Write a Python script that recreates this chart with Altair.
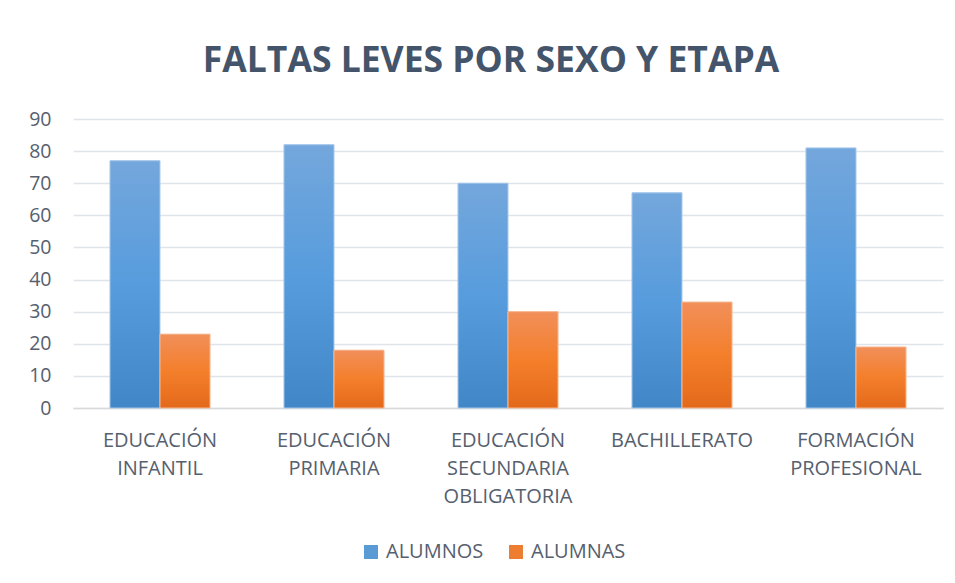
import altair as alt
import pandas as pd

categories = ["EDUCACIÓN INFANTIL", "EDUCACIÓN PRIMARIA", "EDUCACIÓN SECUNDARIA OBLIGATORIA",
              "BACHILLERATO", "FORMACIÓN PROFESIONAL"]
alumnos = [77, 82, 70, 67, 81]
alumnas = [23, 18, 30, 33, 19]
series = ["ALUMNOS", "ALUMNAS"]
y_ticks = [0, 10, 20, 30, 40, 50, 60, 70, 80, 90]

rows = []
for c, a, b in zip(categories, alumnos, alumnas):
    rows.append({"etapa": c, "sexo": "ALUMNOS", "valor": a})
    rows.append({"etapa": c, "sexo": "ALUMNAS", "valor": b})
df = pd.DataFrame(rows)

BLUE = "#5B9BD5"
ORANGE = "#ED7D31"
TEXT = "#56606E"
FONT = "Open Sans"

x_enc = alt.X("etapa:N", sort=categories,
              scale=alt.Scale(paddingInner=0.425, paddingOuter=0.2125),
              axis=alt.Axis(title=None, labelAngle=0, labelExpr="split(datum.label, ' ')",
                            labelFontSize=20, labelColor=TEXT, labelFont=FONT,
                            labelPadding=22, labelLineHeight=28, ticks=False,
                            domainColor="#D9D9D9", domainWidth=1.5, labelBaseline="top"))
y_enc = alt.Y("valor:Q", scale=alt.Scale(domain=[0, 90], nice=False),
              axis=alt.Axis(title=None, values=y_ticks, labelFontSize=19.5, labelColor=TEXT,
                            labelFont=FONT, labelPadding=22, ticks=False,
                            domain=False, gridColor="#DFE3EA", gridWidth=1.5))
xoff = alt.XOffset("sexo:N", sort=series, scale=alt.Scale(domain=series, paddingInner=0, paddingOuter=0))

base = alt.Chart(df).encode(x=x_enc, y=y_enc, xOffset=xoff)

solid = base.mark_bar().encode(
    color=alt.Color("sexo:N", sort=series,
                    scale=alt.Scale(domain=series, range=[BLUE, ORANGE]),
                    legend=alt.Legend(title=None, orient="none", legendX=288, legendY=423,
                                      direction="horizontal", symbolType="square",
                                      symbolSize=196, labelFontSize=20, labelColor=TEXT,
                                      labelFont=FONT, columnPadding=22,
                                      symbolStrokeWidth=0, labelOffset=5))
)

def grad(top, mid, bot):
    return alt.Gradient(gradient="linear", x1=0, x2=0, y1=0, y2=1,
                        stops=[alt.GradientStop(color=top, offset=0),
                               alt.GradientStop(color=mid, offset=0.5),
                               alt.GradientStop(color=bot, offset=1)])

blue_bars = base.transform_filter(alt.datum.sexo == "ALUMNOS").mark_bar(
    fill=grad("#74A7DC", "#579CDD", "#4186C6"), stroke="#A9C9EC", strokeWidth=1)
orange_bars = base.transform_filter(alt.datum.sexo == "ALUMNAS").mark_bar(
    fill=grad("#F18F5A", "#F47F2B", "#E3691A"), stroke="#F6B892", strokeWidth=1)

chart = alt.layer(solid, blue_bars, orange_bars).properties(
    width=870, height=289,
    title=alt.TitleParams("FALTAS LEVES POR SEXO Y ETAPA", fontSize=35.5, font=FONT,
                          fontWeight="bold", color="#44546A", anchor="middle", dx=-17, offset=30),
    autosize=alt.AutoSizeParams(type="none"),
    padding={"left": 65, "top": 111, "right": 4, "bottom": 167},
    background="white",
).configure_view(stroke=None)

chart.save("out.html", embed_options={"renderer": "svg", "actions": False})
